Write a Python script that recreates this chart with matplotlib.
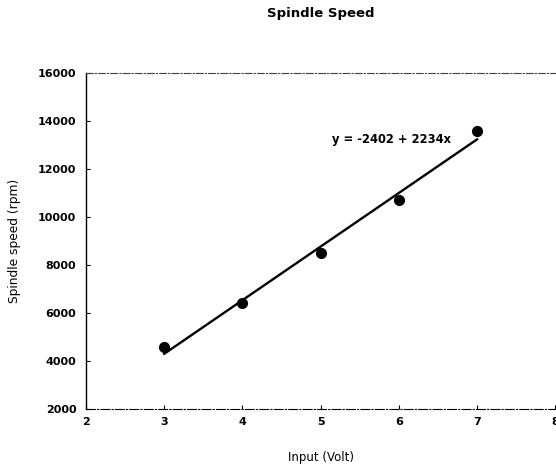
import matplotlib
matplotlib.use("Agg")
import matplotlib.pyplot as plt
import numpy as np

input_volt = [3, 4, 5, 6, 7]
speed_rpm = [4600, 6400, 8500, 10700, 13600]

# regression shown on the chart
intercept = -2402
slope = 2234

plt.rcParams["font.family"] = ["DejaVu Sans"]

fig = plt.figure(figsize=(5.56, 4.69), dpi=100)
ax = fig.add_axes([0.1547, 0.1279, 0.844, 0.7164])

xs = np.array([input_volt[0], input_volt[-1]], dtype=float)
ax.plot(xs, intercept + slope * xs, color="black", lw=1.7, zorder=2)
ax.plot(input_volt, speed_rpm, "o", color="black", ms=7, zorder=3)

ax.text(5.15, 13250, "y = -2402 + 2234x", fontsize=8.3, fontweight="bold",
        ha="left", va="center")

ax.set_xlim(2, 8)
ax.set_ylim(2000, 16000)
ax.set_xticks(range(2, 9))
ax.set_yticks(range(2000, 16001, 2000))
for lab in ax.get_xticklabels() + ax.get_yticklabels():
    lab.set_fontweight("bold")
    lab.set_fontsize(8)
ax.tick_params(direction="in", length=3, width=0.8)
ax.tick_params(axis="y", pad=7)
ax.tick_params(axis="x", pad=6)

ax.spines["right"].set_visible(False)
ax.spines["top"].set_linestyle((0, (6, 2, 1, 2)))
ax.spines["top"].set_linewidth(0.8)
ax.spines["top"].set_color("0.25")
ax.spines["bottom"].set_linestyle((0, (8, 2, 1, 2)))
ax.spines["bottom"].set_linewidth(0.8)
ax.spines["left"].set_linewidth(1.0)

ax.set_xlabel("Input (Volt)", fontsize=8.5, labelpad=17)
ax.set_ylabel("Spindle speed (rpm)", fontsize=8.8, labelpad=12)
fig.text(0.576, 0.972, "Spindle Speed", ha="center", va="center",
         fontsize=9.5, fontweight="bold")

fig.savefig("out.png", dpi=100)
